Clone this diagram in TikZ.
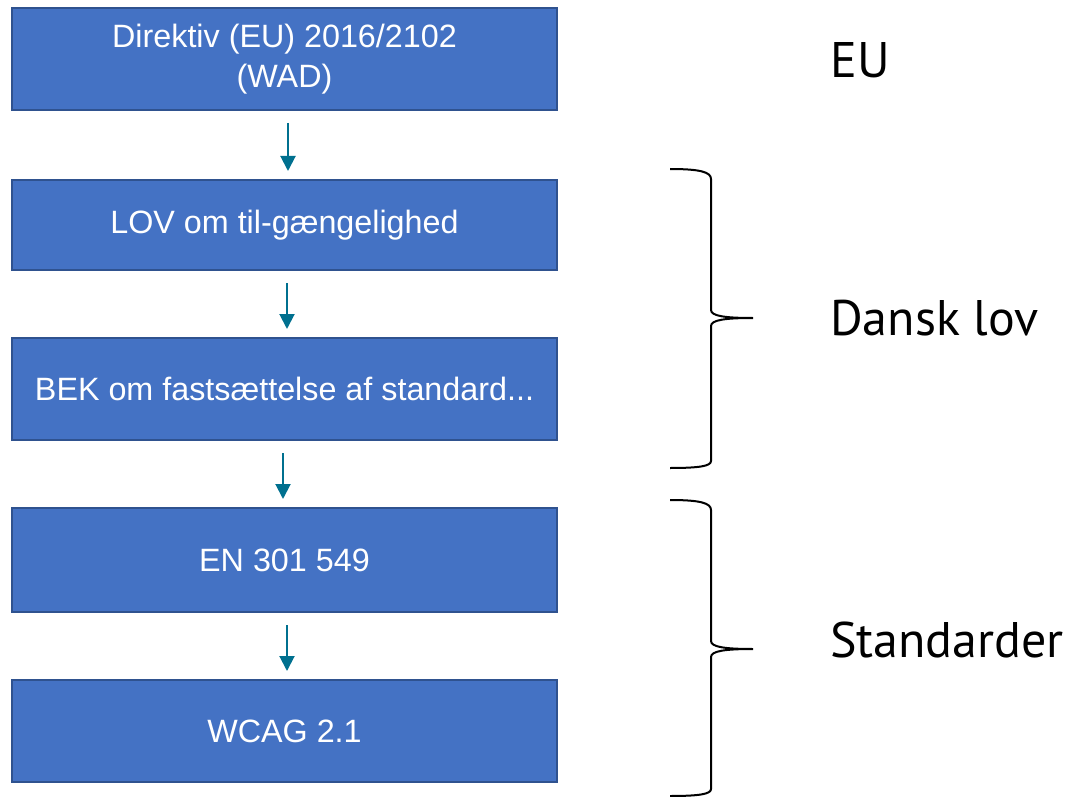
\documentclass[tikz,border=0pt]{standalone}
\usepackage{fontspec}
\setmainfont{Liberation Sans}
\newfontfamily\sidefont{PT Sans}
\usepackage{tikz}
\usetikzlibrary{arrows.meta, positioning}
\definecolor{boxfill}{HTML}{4472C4}
\definecolor{boxline}{HTML}{2F528F}
\definecolor{arrteal}{HTML}{00708F}

\begin{document}
\begin{tikzpicture}[
    x=1pt, y=-1pt,
    font=\fontsize{32.3}{40}\selectfont,
    blockbox/.style = {
        rectangle, draw=boxline, fill=boxfill, text=white,
        minimum width=545pt, minimum height=102pt,
        align=center, line width=2pt, inner sep=0pt
    },
    arr/.style = {-{Triangle[length=15pt, width=15pt]}, line width=2pt, draw=arrteal,
        shorten <=12pt, shorten >=8pt},
    bracestyle/.style = {line width=2pt, draw=black},
    sidelabel/.style = {font=\sidefont\fontsize{50}{58}\selectfont, anchor=west, inner sep=0pt}
]
\useasboundingbox (0,0) rectangle (1071,797);

% ---- Boxes ----
\node[blockbox] (wad) at (284.5,59) {Direktiv (EU) 2016/2102\\(WAD)};
\node[blockbox, minimum height=90pt, below=68pt of wad] (lov) {LOV om til-gængelighed};
\node[blockbox, below=66pt of lov] (bek) {BEK om fastsættelse af standard...};
\node[blockbox, minimum height=104pt, below=66pt of bek] (en) {EN 301 549};
\node[blockbox, below=66pt of en] (wcag) {WCAG 2.1};

% ---- Arrows ----
\draw[arr] ([xshift=3.5pt]wad.south) -- ([xshift=3.5pt]lov.north);
\draw[arr] ([xshift=2.5pt]lov.south) -- ([xshift=2.5pt]bek.north);
\draw[arr] ([xshift=-1.5pt]bek.south) -- ([xshift=-1.5pt]en.north);
\draw[arr] ([xshift=2.5pt]en.south) -- ([xshift=2.5pt]wcag.north);

% ---- Braces ----
\coordinate (lovtip) at (753,318);
\coordinate (stdtip) at (753,649);
\draw[bracestyle] (670,169) .. controls (700,169) and (711,172) .. (711,179)
    -- (711,310) .. controls (711,316) and (725,318) .. (lovtip)
    .. controls (725,318) and (711,320) .. (711,326)
    -- (711,461) .. controls (711,466) and (700,468) .. (670,468);
\draw[bracestyle] (670,500) .. controls (700,500) and (711,503) .. (711,510)
    -- (711,641) .. controls (711,647) and (725,649) .. (stdtip)
    .. controls (725,649) and (711,651) .. (711,657)
    -- (711,789) .. controls (711,794) and (700,796) .. (670,796);

% ---- Side labels ----
\node[sidelabel] (eu) at (830,60.5) {EU};
\node[sidelabel, right=77pt of lovtip] (dansk) {Dansk lov};
\node[sidelabel, right=77pt of stdtip, yshift=9pt] (std) {Standarder};

\end{tikzpicture}
\end{document}
